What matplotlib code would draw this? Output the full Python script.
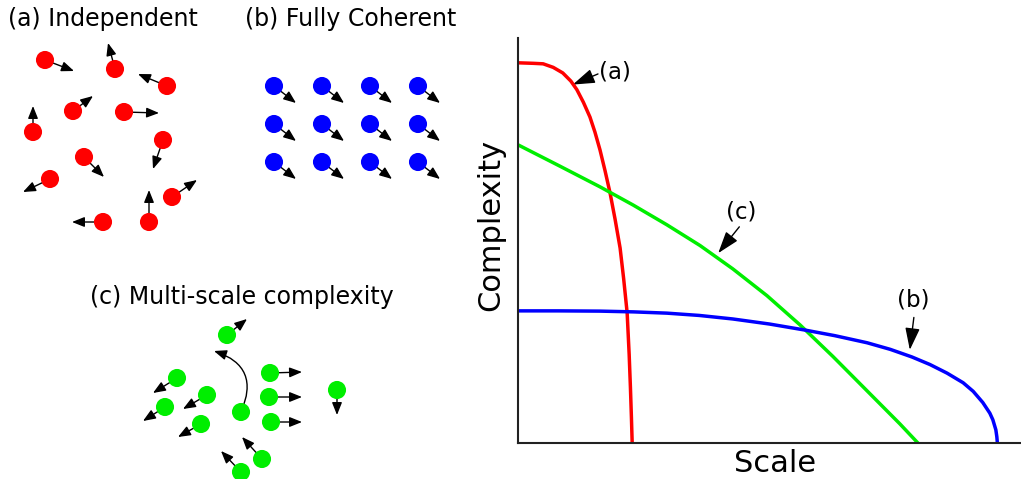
import matplotlib
matplotlib.use('Agg')
import matplotlib.pyplot as plt
from matplotlib.patches import FancyArrowPatch

# ---- left panels: particle positions (px) and arrow tips (px)
indep_x = [45, 115, 167, 73, 124, 33, 163, 84, 50, 172, 103, 149]
indep_y = [60, 69, 86, 111, 112, 132, 140, 157, 179, 197, 222, 222]
indep_tx = [74, 108, 138, 93, 159, 33, 153, 104, 23, 197, 72, 149]
indep_ty = [71, 43, 74, 96, 113, 106, 169, 177, 192, 180, 222, 190]

coh_cols = [274, 322, 370, 418]
coh_rows = [86, 124, 162]
coh_dx, coh_dy = 22, 17

multi_x = [227, 177, 165, 207, 201, 270, 269, 271, 337, 262, 241]
multi_y = [335, 378, 407, 395, 424, 373, 397, 422, 390, 459, 472]
multi_tx = [247, 153, 143, 183, 178, 302, 302, 302, 337, 242, 221]
multi_ty = [319, 393, 421, 409, 437, 372, 397, 422, 415, 437, 451]
swirl_start = (241, 412)
swirl_end = (214, 351)

# ---- right plot: curves
red_x = [0, 0.3, 0.5, 0.7, 0.89, 1.05, 1.17, 1.3, 1.43, 1.53, 1.63, 1.73, 1.83,
         1.93, 2.03, 2.10, 2.17, 2.21, 2.235, 2.255, 2.27]
red_y = [7.51, 7.50, 7.49, 7.42, 7.31, 7.15, 6.98, 6.73, 6.44, 6.14, 5.79, 5.38, 4.94,
         4.42, 3.85, 3.25, 2.57, 1.75, 1.10, 0.50, 0]

green_x = [0, 0.83, 1.63, 2.29, 2.96, 3.62, 4.27, 4.95, 5.61, 6.26, 6.94, 7.59, 7.95]
green_y = [5.89, 5.47, 5.06, 4.70, 4.31, 3.90, 3.44, 2.91, 2.33, 1.71, 1.03, 0.38, 0]

blue_x = [0, 0.8, 1.63, 2.3, 2.96, 3.6, 4.27, 5.0, 5.71, 6.3, 6.94, 7.4, 7.83, 8.19,
          8.53, 8.85, 9.05, 9.24, 9.38, 9.44, 9.50, 9.52, 9.53]
blue_y = [2.61, 2.61, 2.605, 2.59, 2.565, 2.52, 2.45, 2.35, 2.23, 2.12, 1.98, 1.85, 1.70,
          1.55, 1.38, 1.19, 1.02, 0.80, 0.59, 0.46, 0.26, 0.12, 0]

labels = ['(a)', '(b)', '(c)']
label_xy = [(1.62, 7.32), (7.85, 2.82), (4.44, 4.56)]
arrow_tail = [(1.59, 7.29), (7.87, 2.48), (4.40, 4.27)]
arrow_tip = [(1.09, 7.08), (7.79, 1.84), (3.98, 3.75)]

fig = plt.figure(figsize=(10.21, 4.79), dpi=100)

# left side drawn in pixel units
axl = fig.add_axes([0, 0, 470 / 1021, 1])
axl.set_xlim(0, 470)
axl.set_ylim(479, 0)
axl.axis('off')

def arrow(ax, p0, p1, **kw):
    a = FancyArrowPatch(p0, p1, arrowstyle='-|>,head_length=0.75,head_width=0.3',
                        mutation_scale=10, color='black', lw=1.0,
                        shrinkA=0, shrinkB=0, zorder=1, **kw)
    ax.add_patch(a)

for x, y, tx, ty in zip(indep_x, indep_y, indep_tx, indep_ty):
    arrow(axl, (x, y), (tx, ty))
axl.scatter(indep_x, indep_y, s=170, c='#ff0000', edgecolors='none', zorder=3)

cx = [c for r in coh_rows for c in coh_cols]
cy = [r for r in coh_rows for c in coh_cols]
for x, y in zip(cx, cy):
    arrow(axl, (x, y), (x + coh_dx, y + coh_dy))
axl.scatter(cx, cy, s=170, c='#0000ff', edgecolors='none', zorder=3)

for x, y, tx, ty in zip(multi_x, multi_y, multi_tx, multi_ty):
    arrow(axl, (x, y), (tx, ty))
arrow(axl, swirl_start, swirl_end, connectionstyle='arc3,rad=0.55')
axl.scatter(multi_x + [swirl_start[0]], multi_y + [swirl_start[1]], s=170,
            c='#00ee00', edgecolors='none', zorder=3)

axl.text(8, 19, '(a) Independent', fontsize=17, va='center', ha='left')
axl.text(245, 19, '(b) Fully Coherent', fontsize=17, va='center', ha='left')
axl.text(90, 297, '(c) Multi-scale complexity', fontsize=17, va='center', ha='left')

# right side plot
ax = fig.add_axes([518 / 1021, 36 / 479, 503 / 1021, 405 / 479])
ax.plot(red_x, red_y, color='#ff0000', lw=2.5, solid_joinstyle='round')
ax.plot(green_x, green_y, color='#00ee00', lw=2.5, solid_joinstyle='round')
ax.plot(blue_x, blue_y, color='#0000ff', lw=2.5, solid_joinstyle='round')
ax.set_xlim(0, 10)
ax.set_ylim(0, 8)
ax.set_xticks([])
ax.set_yticks([])
for s in ['top', 'right']:
    ax.spines[s].set_visible(False)
for s in ['left', 'bottom']:
    ax.spines[s].set_linewidth(1.5)
    ax.spines[s].set_color('#222222')

for lab, lxy, t0, t1 in zip(labels, label_xy, arrow_tail, arrow_tip):
    ax.text(lxy[0], lxy[1], lab, fontsize=16.5,
            ha='left' if lab == '(a)' else 'center', va='center')
    ax.add_patch(FancyArrowPatch(t0, t1, arrowstyle='-|>,head_length=0.9,head_width=0.3',
                                 mutation_scale=15, color='black', lw=1.0,
                                 shrinkA=0, shrinkB=0))

ax.set_xlabel('Scale', fontsize=22)
ax.set_ylabel('Complexity', fontsize=22)
ax.xaxis.set_label_coords(0.511, -0.015)
ax.yaxis.set_label_coords(-0.025, 0.538)

fig.savefig('out.png', dpi=100)
